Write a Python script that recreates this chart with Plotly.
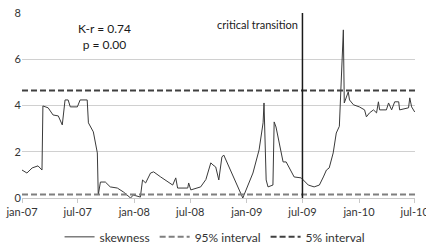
import plotly.graph_objects as go

dates = [
    "2007-01-01", "2007-01-17", "2007-02-03", "2007-02-22", "2007-03-07", "2007-03-10",
    "2007-03-27", "2007-04-12", "2007-04-29", "2007-05-12", "2007-05-21", "2007-05-31",
    "2007-06-07", "2007-06-30", "2007-07-09", "2007-08-01", "2007-08-05", "2007-08-21",
    "2007-09-03", "2007-09-06", "2007-09-13", "2007-09-29", "2007-10-15", "2007-11-07",
    "2007-11-27", "2007-12-20", "2007-12-29", "2008-01-21", "2008-01-28", "2008-02-07",
    "2008-02-23", "2008-03-04", "2008-03-27", "2008-04-19", "2008-05-05", "2008-05-15",
    "2008-05-21", "2008-06-23", "2008-06-26", "2008-07-03", "2008-08-04", "2008-08-21",
    "2008-09-06", "2008-09-13", "2008-09-22", "2008-10-02", "2008-10-12", "2008-10-18",
    "2008-12-19", "2009-01-21", "2009-02-10", "2009-02-23", "2009-02-26", "2009-03-05",
    "2009-03-11", "2009-03-27", "2009-03-31", "2009-04-06", "2009-04-16", "2009-04-29",
    "2009-05-09", "2009-05-25", "2009-06-04", "2009-06-27", "2009-07-20", "2009-08-08",
    "2009-08-25", "2009-09-07", "2009-09-17", "2009-09-26", "2009-10-09", "2009-10-19",
    "2009-10-29", "2009-11-11", "2009-11-14", "2009-11-27", "2009-12-01", "2009-12-14",
    "2010-01-02", "2010-01-19", "2010-01-25", "2010-02-04", "2010-02-17", "2010-02-27",
    "2010-03-05", "2010-03-09", "2010-03-31", "2010-04-07", "2010-04-17", "2010-04-27",
    "2010-05-10", "2010-05-13", "2010-06-11", "2010-06-15", "2010-06-21", "2010-07-01",
]
skewness = [
    1.21, 1.08, 1.30, 1.39, 1.21, 3.98,
    3.90, 3.59, 3.55, 3.16, 4.24, 4.24,
    3.94, 3.94, 4.24, 4.24, 3.25, 2.86,
    1.95, 0.13, 0.69, 0.69, 0.48, 0.43,
    0.26, 0.00, 0.13, 0.04, 0.78, 0.65,
    1.08, 1.13, 0.91, 0.69, 0.56, 0.87,
    0.43, 0.43, 0.65, 0.35, 0.48, 0.80,
    1.52, 1.43, 1.34, 0.78, 1.77, 1.86,
    0.00, 1.08, 2.08, 3.25, 4.11, 0.78,
    0.48, 0.56, 3.29, 3.07, 2.38, 1.56,
    1.56, 1.13, 0.91, 0.87, 0.56, 0.48,
    0.56, 0.91, 1.21, 1.30, 1.95, 2.81,
    3.10, 7.27, 4.11, 4.59, 4.24, 4.03,
    3.94, 3.81, 3.51, 3.68, 3.81, 3.68,
    4.16, 3.81, 3.81, 4.11, 3.81, 4.16,
    4.16, 3.81, 3.90, 4.33, 3.94, 3.72,
]
x_range = ["2007-01-01", "2010-07-02"]
level_95 = 0.15
level_5 = 4.65
transition_date = "2009-07-01"
tick_vals = ["2007-01-01", "2007-07-01", "2008-01-01", "2008-07-01",
             "2009-01-01", "2009-07-01", "2010-01-01", "2010-07-01"]
tick_text = ["jan-07", "jul-07", "jan-08", "jul-08", "jan-09", "jul-09", "jan-10", "jul-10"]

font = "Lato"
fig = go.Figure()
fig.add_trace(go.Scatter(x=dates, y=skewness, mode="lines", name="skewness",
                         line=dict(color="#3a3a3a", width=1)))
fig.add_trace(go.Scatter(x=x_range, y=[level_95, level_95], mode="lines", name="95% interval",
                         line=dict(color="#7f7f7f", width=2, dash="6px,3px")))
fig.add_trace(go.Scatter(x=x_range, y=[level_5, level_5], mode="lines", name="5% interval",
                         line=dict(color="#404040", width=2, dash="6px,3px")))

fig.add_shape(type="line", x0=transition_date, x1=transition_date, y0=0, y1=1,
              xref="x", yref="paper", line=dict(color="#1a1a1a", width=1.5))
fig.add_annotation(x=transition_date, y=1, xref="x", yref="paper", text="critical transition",
                   showarrow=False, xanchor="right", yanchor="top", xshift=-2, yshift=-3,
                   font=dict(family=font, size=11, color="#1a1a1a"))
fig.add_annotation(x=0.21, y=0.97, xref="paper", yref="paper", text="K-r = 0.74<br>p = 0.00",
                   showarrow=False, xanchor="center", yanchor="top", align="center",
                   font=dict(family=font, size=12, color="#1a1a1a"))

fig.update_layout(
    width=426, height=245,
    margin=dict(l=22, r=11, t=13, b=47, autoexpand=False),
    paper_bgcolor="white", plot_bgcolor="white",
    font=dict(family=font, size=11, color="#333333"),
    showlegend=True,
    legend=dict(orientation="h", x=0.49, xanchor="center",
                y=-0.21, yanchor="middle",
                bgcolor="rgba(0,0,0,0)",
                font=dict(family=font, size=12, color="#333333"),
                itemwidth=30, tracegroupgap=0, borderwidth=0),
)
fig.update_xaxes(range=x_range, tickvals=tick_vals, ticktext=tick_text,
                 showgrid=False, showline=True, linecolor="#c8c8c8", linewidth=1,
                 ticks="outside", ticklen=4, tickcolor="#c8c8c8", ticklabeloverflow="allow",
                 tickfont=dict(family=font, size=11, color="#333333"))
fig.update_yaxes(range=[0, 8], tickvals=[0, 2, 4, 6, 8], showgrid=True, gridcolor="#d0d0d0",
                 gridwidth=1, zeroline=False, showline=False, ticks="",
                 tickfont=dict(family=font, size=11, color="#333333"))

fig.write_html("out.html", config={"displayModeBar": False},
               post_script="document.body.style.margin='0px';")
